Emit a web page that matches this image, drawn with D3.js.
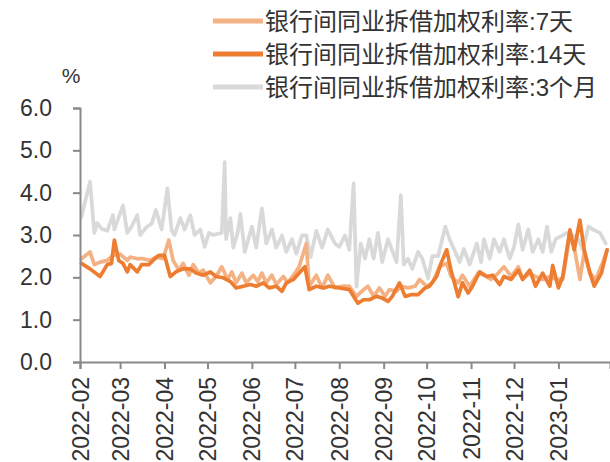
<!DOCTYPE html>
<html>
<head>
<meta charset="utf-8">
<script src="https://cdn.jsdelivr.net/npm/d3@7"></script>
<style>
  body { margin: 0; background: #fff; }
  svg { display: block; }
  text { font-family: "Liberation Sans", Arial, "Noto Sans CJK SC", sans-serif; fill: #333; }
</style>
</head>
<body>
<div class="container"></div>
<script>
var seriesNames = ["银行间同业拆借加权利率:7天", "银行间同业拆借加权利率:14天", "银行间同业拆借加权利率:3个月"];
var monthTicks = ["2022-02", "2022-03", "2022-04", "2022-05", "2022-06", "2022-07",
                  "2022-08", "2022-09", "2022-10", "2022-11", "2022-12", "2023-01"];
var yTicks = [0, 1, 2, 3, 4, 5, 6];

var rate7d = [
  ["2022-02-02",2.44],["2022-02-08",2.60],["2022-02-11",2.30],["2022-02-15",2.36],["2022-02-20",2.40],
  ["2022-02-24",2.52],["2022-03-01",2.55],["2022-03-06",2.40],["2022-03-08",2.48],["2022-03-13",2.44],
  ["2022-03-17",2.44],["2022-03-22",2.40],["2022-03-26",2.48],["2022-03-31",2.44],["2022-04-04",2.88],
  ["2022-04-07",2.40],["2022-04-11",2.17],["2022-04-14",2.33],["2022-04-18",2.05],["2022-04-21",2.30],
  ["2022-04-25",2.10],["2022-04-28",2.17],["2022-05-03",1.87],["2022-05-07",2.02],["2022-05-11",2.25],
  ["2022-05-15",1.95],["2022-05-18",2.13],["2022-05-21",1.87],["2022-05-25",2.10],["2022-05-28",1.87],
  ["2022-06-02",2.05],["2022-06-05",1.90],["2022-06-08",2.10],["2022-06-11",1.87],["2022-06-15",2.05],
  ["2022-06-18",1.83],["2022-06-23",2.02],["2022-06-26",1.87],["2022-07-01",2.10],["2022-07-04",2.25],
  ["2022-07-09",2.80],["2022-07-11",1.79],["2022-07-16",2.05],["2022-07-20",1.75],["2022-07-24",2.05],
  ["2022-07-29",1.75],["2022-08-03",1.79],["2022-08-08",1.79],["2022-08-13",1.55],["2022-08-18",1.71],
  ["2022-08-21",1.79],["2022-08-25",1.55],["2022-08-29",1.75],["2022-09-02",1.55],["2022-09-05",1.71],
  ["2022-09-10",1.67],["2022-09-13",1.79],["2022-09-18",1.75],["2022-09-23",1.79],["2022-09-26",1.95],
  ["2022-10-01",1.79],["2022-10-05",1.87],["2022-10-10",2.25],["2022-10-15",2.33],["2022-10-18",2.02],
  ["2022-10-23",1.87],["2022-10-26",2.05],["2022-10-31",1.79],["2022-11-06",2.10],["2022-11-10",2.05],
  ["2022-11-15",1.95],["2022-11-20",2.10],["2022-11-24",2.25],["2022-11-29",2.02],["2022-12-04",2.25],
  ["2022-12-07",1.95],["2022-12-12",2.10],["2022-12-16",2.02],["2022-12-21",1.95],["2022-12-26",2.02],
  ["2022-12-30",1.95],["2023-01-04",1.95],["2023-01-09",3.00],["2023-01-12",2.72],["2023-01-16",1.95],
  ["2023-01-19",2.60],["2023-01-23",2.10],["2023-01-27",1.95],["2023-02-01",2.36],["2023-02-04",2.65]
];

var rate14d = [
  ["2022-02-02",2.33],["2022-02-08",2.20],["2022-02-15",2.02],["2022-02-20",2.30],["2022-02-23",2.33],
  ["2022-02-25",2.88],["2022-02-28",2.40],["2022-03-03",2.33],["2022-03-06",2.13],["2022-03-08",2.30],
  ["2022-03-13",2.13],["2022-03-16",2.30],["2022-03-21",2.30],["2022-03-24",2.40],["2022-03-28",2.52],
  ["2022-04-01",2.52],["2022-04-05",2.02],["2022-04-09",2.13],["2022-04-14",2.20],["2022-04-19",2.20],
  ["2022-04-23",2.10],["2022-04-28",2.05],["2022-05-03",2.13],["2022-05-07",2.02],["2022-05-12",1.99],
  ["2022-05-17",1.90],["2022-05-21",1.75],["2022-05-26",1.79],["2022-05-31",1.83],["2022-06-04",1.79],
  ["2022-06-09",1.87],["2022-06-13",1.75],["2022-06-18",1.79],["2022-06-22",1.67],["2022-06-25",1.87],
  ["2022-06-30",1.95],["2022-07-04",2.10],["2022-07-08",2.25],["2022-07-11",1.71],["2022-07-16",1.79],
  ["2022-07-21",1.75],["2022-07-25",1.79],["2022-08-01",1.75],["2022-08-08",1.71],["2022-08-14",1.39],
  ["2022-08-18",1.47],["2022-08-22",1.47],["2022-08-27",1.55],["2022-08-31",1.51],["2022-09-04",1.43],
  ["2022-09-07",1.55],["2022-09-12",1.87],["2022-09-16",1.55],["2022-09-20",1.59],["2022-09-25",1.59],
  ["2022-09-30",1.75],["2022-10-03",1.79],["2022-10-08",2.02],["2022-10-11",2.33],["2022-10-15",2.65],
  ["2022-10-18",2.17],["2022-10-23",1.54],["2022-10-26",1.87],["2022-10-30",1.63],["2022-11-02",1.79],
  ["2022-11-07",2.13],["2022-11-12",2.02],["2022-11-16",2.05],["2022-11-21",1.83],["2022-11-24",2.02],
  ["2022-11-29",1.95],["2022-12-04",2.17],["2022-12-07",1.95],["2022-12-12",2.17],["2022-12-16",1.79],
  ["2022-12-21",2.10],["2022-12-26",1.79],["2022-12-28",2.28],["2023-01-01",1.75],["2023-01-04",2.02],
  ["2023-01-09",3.12],["2023-01-12",2.65],["2023-01-16",3.35],["2023-01-19",2.65],["2023-01-23",2.10],
  ["2023-01-26",1.79],["2023-01-31",2.10],["2023-02-04",2.65]
];

var rate3m = [
  ["2022-02-02",3.43],["2022-02-08",4.26],["2022-02-11",3.05],["2022-02-13",3.28],["2022-02-16",3.15],
  ["2022-02-20",3.10],["2022-02-24",3.47],["2022-02-25",3.13],["2022-03-03",3.70],["2022-03-06",3.05],
  ["2022-03-09",3.20],["2022-03-13",3.47],["2022-03-15",3.00],["2022-03-19",3.17],["2022-03-23",3.27],
  ["2022-03-26",3.59],["2022-03-30",3.13],["2022-04-03",4.10],["2022-04-06",3.10],["2022-04-08",3.00],
  ["2022-04-12",3.40],["2022-04-15",3.13],["2022-04-19",3.47],["2022-04-22",3.00],["2022-04-26",3.13],
  ["2022-04-29",2.72],["2022-05-02",3.05],["2022-05-05",3.00],["2022-05-11",3.05],["2022-05-13",4.72],
  ["2022-05-14",2.90],["2022-05-17",3.40],["2022-05-19",2.70],["2022-05-22",3.05],["2022-05-24",3.50],
  ["2022-05-27",2.60],["2022-06-01",3.20],["2022-06-04",2.70],["2022-06-08",3.63],["2022-06-11",2.80],
  ["2022-06-15",3.13],["2022-06-18",2.70],["2022-06-22",2.99],["2022-06-25",2.60],["2022-06-29",2.90],
  ["2022-07-02",2.56],["2022-07-06",2.99],["2022-07-09",2.99],["2022-07-12",2.48],["2022-07-16",3.10],
  ["2022-07-20",2.70],["2022-07-24",3.13],["2022-07-29",2.80],["2022-08-01",2.72],["2022-08-05",2.99],
  ["2022-08-08",2.65],["2022-08-11",4.22],["2022-08-13",1.78],["2022-08-16",2.80],["2022-08-19",2.44],
  ["2022-08-22",2.90],["2022-08-25",2.44],["2022-08-28",3.05],["2022-08-31",2.36],["2022-09-04",2.90],
  ["2022-09-07",2.63],["2022-09-10",2.36],["2022-09-13",3.94],["2022-09-15",2.30],["2022-09-18",2.44],
  ["2022-09-21",2.20],["2022-09-25",2.60],["2022-09-28",2.44],["2022-10-02",1.98],["2022-10-05",2.50],
  ["2022-10-09",2.50],["2022-10-14",3.20],["2022-10-17",2.90],["2022-10-21",2.60],["2022-10-24",2.36],
  ["2022-10-27",2.67],["2022-10-31",2.30],["2022-11-05",2.80],["2022-11-08",2.36],["2022-11-10",2.90],
  ["2022-11-14",2.44],["2022-11-17",2.90],["2022-11-21",2.60],["2022-11-24",2.90],["2022-11-28",2.44],
  ["2022-12-01",2.72],["2022-12-04",3.25],["2022-12-07",2.65],["2022-12-11",3.13],["2022-12-14",2.60],
  ["2022-12-18",2.90],["2022-12-21",2.60],["2022-12-24",3.20],["2022-12-27",2.60],["2022-12-30",2.90],
  ["2023-01-04",2.99],["2023-01-07",3.05],["2023-01-11",2.99],["2023-01-15",2.90],["2023-01-18",2.65],
  ["2023-01-22",3.20],["2023-01-25",3.13],["2023-01-30",3.05],["2023-02-03",2.80]
];

const WIDTH = 610;
const HEIGHT = 462;
const LEFT = 80;
const RIGHT = 610;
const TOP = 108;
const BOTTOM = 362;
const AXIS_COLOR = "#898989";
var colors = ["#F4B183", "#ED7D31", "#D9D9D9"];

var parseDay = d3.timeParse("%Y-%m-%d");
var parseMonth = d3.timeParse("%Y-%m");

var xScale = d3.scaleTime()
  .domain([parseDay("2022-02-01"), parseDay("2023-02-06")])
  .range([LEFT, RIGHT]);

var yScale = d3.scaleLinear()
  .domain([0, 6])
  .range([BOTTOM, TOP]);

var line = d3.line()
  .x(function (d) { return xScale(parseDay(d[0])); })
  .y(function (d) { return yScale(d[1]); });

var svg = d3.select("body").append("svg")
  .attr("width", WIDTH)
  .attr("height", HEIGHT);

// lines: 3个月 at the back, 14天 on top
var drawOrder = [[rate3m, 2], [rate7d, 0], [rate14d, 1]];
drawOrder.forEach(function (s) {
  svg.append("path")
    .attr("d", line(s[0]))
    .attr("fill", "none")
    .attr("stroke", colors[s[1]])
    .attr("stroke-width", 3.7)
    .attr("stroke-linejoin", "round")
    .attr("stroke-linecap", "round");
});

// axes
var yAxis = d3.axisLeft(yScale)
  .tickValues(yTicks)
  .tickFormat(d3.format(".1f"))
  .tickSize(7)
  .tickPadding(21);

var xAxis = d3.axisBottom(xScale)
  .tickValues(monthTicks.map(parseMonth))
  .tickFormat(d3.timeFormat("%Y-%m"))
  .tickSize(7)
  .tickPadding(8);

var gy = svg.append("g")
  .attr("transform", "translate(" + LEFT + ",0)")
  .call(yAxis);

var gx = svg.append("g")
  .attr("transform", "translate(0," + BOTTOM + ")")
  .call(xAxis);

[gx, gy].forEach(function (g) {
  g.select(".domain").attr("stroke", AXIS_COLOR).attr("stroke-width", 2);
  g.selectAll(".tick line").attr("stroke", AXIS_COLOR).attr("stroke-width", 2);
  g.selectAll(".tick text")
    .attr("fill", "#222")
    .style("font-size", "23px")
    .style("font-family", "'Liberation Sans', Arial, sans-serif");
});

gx.selectAll(".tick text")
  .attr("transform", "rotate(-90)")
  .attr("text-anchor", "end")
  .attr("x", -15)
  .attr("y", 0)
  .attr("dy", "0.35em");

svg.append("text")
  .attr("x", 71)
  .attr("y", 83)
  .attr("text-anchor", "middle")
  .style("font-size", "21px")
  .attr("fill", "#222")
  .text("%");

// legend
var legend = svg.append("g").selectAll("g")
  .data(seriesNames)
  .enter().append("g")
  .attr("transform", function (d, i) { return "translate(213," + (21 + i * 33) + ")"; });

legend.append("line")
  .attr("x1", 0).attr("x2", 50)
  .attr("stroke", function (d, i) { return colors[i]; })
  .attr("stroke-width", 5);

legend.append("text")
  .attr("x", 52)
  .attr("dy", "0.36em")
  .style("font-size", "24px")
  .attr("fill", "#404040")
  .text(function (d) { return d; });
</script>
</body>
</html>
